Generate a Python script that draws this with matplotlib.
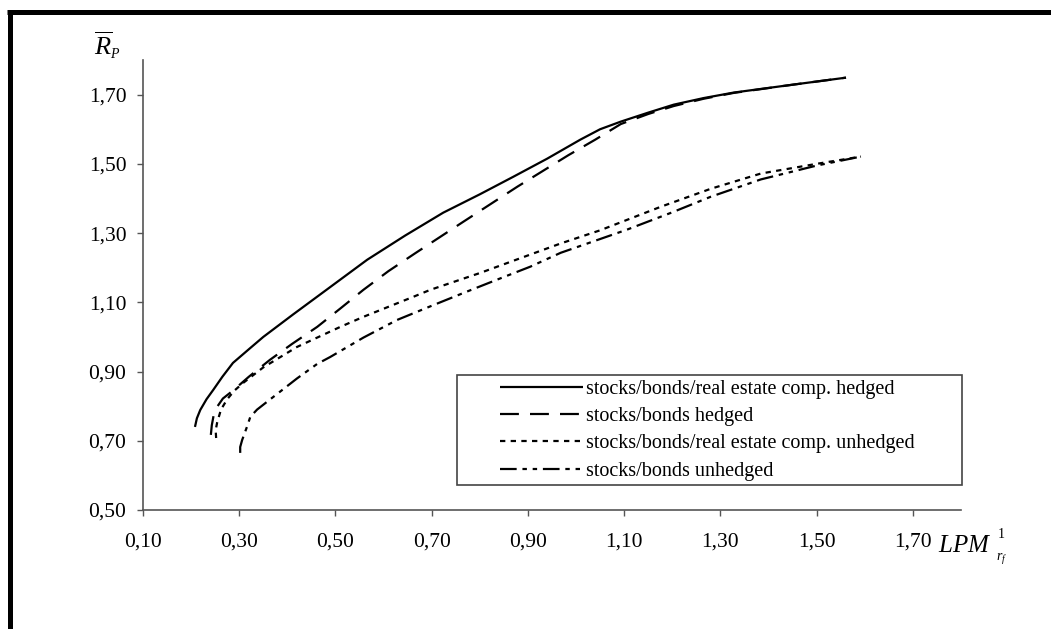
import matplotlib
matplotlib.use("Agg")
import matplotlib.pyplot as plt
from matplotlib.lines import Line2D
from matplotlib.patches import Rectangle

plt.rcParams['font.family'] = ['Liberation Serif', 'DejaVu Serif']
plt.rcParams['mathtext.fontset'] = 'custom'
plt.rcParams['mathtext.rm'] = 'Liberation Serif'
plt.rcParams['mathtext.it'] = 'Liberation Serif:italic'

# ---------------- data ----------------
sbre_hedged_x = [0.208, 0.212, 0.219, 0.232, 0.246, 0.265, 0.287, 0.323, 0.350, 0.412, 0.490,
                 0.566, 0.645, 0.724, 0.800, 0.870, 0.940, 1.009, 1.050, 1.093, 1.150, 1.203,
                 1.265, 1.328, 1.452, 1.561]
sbre_hedged_y = [0.740, 0.765, 0.789, 0.820, 0.847, 0.885, 0.925, 0.968, 1.000, 1.065, 1.145,
                 1.223, 1.293, 1.359, 1.412, 1.463, 1.515, 1.570, 1.600, 1.622, 1.648, 1.671,
                 1.690, 1.706, 1.729, 1.749]

sb_hedged_x = [0.241, 0.243, 0.247, 0.255, 0.266, 0.287, 0.320, 0.364, 0.410, 0.462, 0.510,
               0.558, 0.610, 0.666, 0.766, 0.878, 0.984, 1.040, 1.093, 1.150, 1.203, 1.265,
               1.328, 1.452, 1.561]
sb_hedged_y = [0.717, 0.745, 0.775, 0.800, 0.822, 0.845, 0.885, 0.934, 0.980, 1.029, 1.082,
               1.136, 1.190, 1.242, 1.333, 1.434, 1.525, 1.570, 1.615, 1.644, 1.667, 1.688,
               1.705, 1.729, 1.749]

sbre_unhedged_x = [0.252, 0.251, 0.254, 0.262, 0.275, 0.290, 0.308, 0.350, 0.420, 0.510, 0.558,
                   0.662, 0.697, 0.801, 0.905, 0.968, 1.050, 1.176, 1.280, 1.384, 1.500, 1.592]
sbre_unhedged_y = [0.708, 0.730, 0.752, 0.790, 0.820, 0.845, 0.867, 0.912, 0.971, 1.029, 1.058,
                   1.116, 1.136, 1.185, 1.238, 1.270, 1.308, 1.376, 1.428, 1.472, 1.500, 1.521]

sb_unhedged_x = [0.302, 0.302, 0.306, 0.316, 0.323, 0.337, 0.360, 0.385, 0.420, 0.462, 0.489,
                 0.558, 0.628, 0.700, 0.766, 0.835, 0.905, 0.968, 1.106, 1.200, 1.280, 1.384,
                 1.500, 1.592]
sb_unhedged_y = [0.665, 0.682, 0.702, 0.740, 0.769, 0.790, 0.815, 0.842, 0.880, 0.922, 0.942,
                 0.998, 1.049, 1.090, 1.127, 1.165, 1.203, 1.243, 1.310, 1.360, 1.405, 1.455,
                 1.495, 1.521]

series_labels = ["stocks/bonds/real estate comp. hedged",
                 "stocks/bonds hedged",
                 "stocks/bonds/real estate comp. unhedged",
                 "stocks/bonds unhedged"]

x_ticks = [0.10, 0.30, 0.50, 0.70, 0.90, 1.10, 1.30, 1.50, 1.70]
x_tick_labels = ["0,10", "0,30", "0,50", "0,70", "0,90", "1,10", "1,30", "1,50", "1,70"]
y_ticks = [0.50, 0.70, 0.90, 1.10, 1.30, 1.50, 1.70]
y_tick_labels = ["0,50", "0,70", "0,90", "1,10", "1,30", "1,50", "1,70"]

# ---------------- figure ----------------
W, H = 1051, 629
fig = plt.figure(figsize=(W / 100, H / 100), dpi=100)
fig.patch.set_facecolor('white')

ax = fig.add_axes([143 / W, 119 / H, 818 / W, 450 / H])
ax.set_xlim(0.10, 1.80)
ax.set_ylim(0.50, 1.80)

lw = 1.6
styles = ['-', (0, (8.5, 5.0)), (0, (2.4, 2.4)), (0, (7.5, 2.6, 2.0, 2.6, 2.0, 2.6))]
data = [(sbre_hedged_x, sbre_hedged_y), (sb_hedged_x, sb_hedged_y),
        (sbre_unhedged_x, sbre_unhedged_y), (sb_unhedged_x, sb_unhedged_y)]
handles = []
for (xs, ys), ls, lab in zip(data, styles, series_labels):
    h, = ax.plot(xs, ys, color='black', lw=lw, linestyle=ls, label=lab,
                 solid_capstyle='butt', dash_capstyle='butt')
    handles.append(h)

for s in ['top', 'right']:
    ax.spines[s].set_visible(False)
for s in ['left', 'bottom']:
    ax.spines[s].set_color('#555555')
    ax.spines[s].set_linewidth(1.2)

ax.set_xticks(x_ticks)
ax.set_xticklabels(x_tick_labels)
ax.set_yticks(y_ticks)
ax.set_yticklabels(y_tick_labels)
ax.tick_params(axis='both', direction='out', length=4.5, width=1.0, color='#555555',
               labelsize=15.5, labelcolor='black')
ax.tick_params(axis='x', pad=12)
ax.tick_params(axis='y', pad=7.5)

# legend (frame drawn separately to match the wide box)
leg = fig.legend(handles=handles, labels=series_labels, loc='upper left',
                 bbox_to_anchor=(500 / W, 1 - 380 / H), frameon=False,
                 fontsize=14.5, handlelength=4.1, handletextpad=0.15,
                 labelspacing=0.40, borderpad=0, borderaxespad=0)
fig.add_artist(Rectangle((457 / W, 1 - 485 / H), 505 / W, 110 / H,
                         transform=fig.transFigure, fill=False,
                         edgecolor='#444444', linewidth=1.2))

# axis titles
fig.text(103 / W, 1 - 46 / H, r'$\overline{R}$', fontsize=19,
         ha='center', va='center')
fig.text(110 / W, 1 - 58 / H, r'$P$', fontsize=10, ha='left', va='baseline')
fig.text(938 / W, 1 - 552 / H, r'$LPM$', fontsize=18, ha='left', va='baseline')
fig.text(998 / W, 1 - 538 / H, '1', fontsize=10, ha='left', va='baseline')
fig.text(996 / W, 1 - 560 / H, r'$r_f$', fontsize=10, ha='left', va='baseline')

# outer frame (top and left edges)
fig.add_artist(Line2D([7 / W, 1.0], [1 - 11.5 / H, 1 - 11.5 / H],
                      transform=fig.transFigure, color='black', lw=3.6,
                      solid_capstyle='butt'))
fig.add_artist(Line2D([9.5 / W, 9.5 / W], [0.0, 1 - 9.5 / H],
                      transform=fig.transFigure, color='black', lw=3.6,
                      solid_capstyle='butt'))

fig.savefig('out.png', dpi=100, facecolor='white')
